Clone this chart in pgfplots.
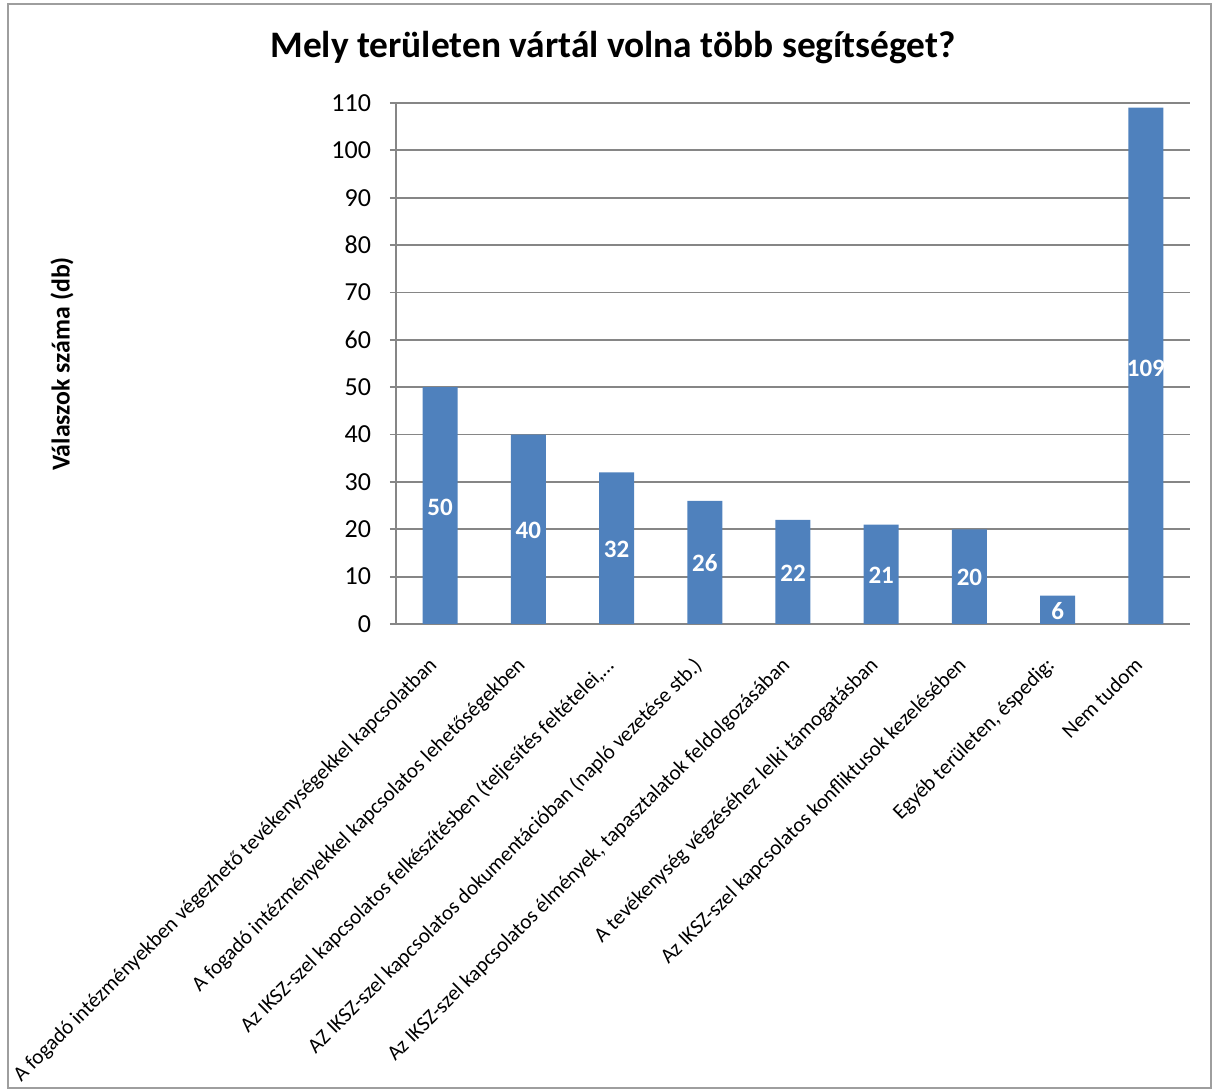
\documentclass[border=0pt]{standalone}
\usepackage{pgfplots}
\pgfplotsset{compat=1.18}
\usepackage{fontspec}
\setmainfont{Carlito}
\definecolor{barblue}{HTML}{4F81BD}
\definecolor{gridgray}{HTML}{868686}
\begin{document}
\begin{tikzpicture}
\useasboundingbox (0pt,0pt) rectangle (607.5pt,545pt);
\draw[gridgray!80, line width=1pt] (4pt,1pt) rectangle (605.5pt,543pt);
\node[font=\fontsize{18.7}{22}\selectfont\bfseries] at (306.5pt,521pt) {Mely területen vártál volna több segítséget?};
\node[font=\fontsize{12.9}{15}\selectfont\bfseries, rotate=90] at (31pt,363pt) {Válaszok száma (db)};
\begin{axis}[
  at={(198pt,233pt)}, anchor=south west,
  scale only axis, width=397pt, height=260.5pt,
  xmin=-0.5, xmax=8.5, ymin=0, ymax=110,
  ytick={0,10,...,110},
  xtick={0,...,8},
  xticklabels={
    A fogadó intézményekben végezhető tevékenységekkel kapcsolatban,
    A fogadó intézményekkel kapcsolatos lehetőségekben,
    {Az IKSZ-szel kapcsolatos felkészítésben (teljesítés feltételei,\ldots},
    AZ IKSZ-szel kapcsolatos dokumentációban (napló vezetése stb.),
    {Az IKSZ-szel kapcsolatos élmények, tapasztalatok feldolgozásában},
    A tevékenység végzéséhez lelki támogatásban,
    Az IKSZ-szel kapcsolatos konfliktusok kezelésében,
    {Egyéb területen, éspedig:},
    Nem tudom},
  axis x line=bottom, axis y line=left,
  x axis line style={-}, y axis line style={-},
  axis line style={gridgray, line width=0.9pt},
  ymajorgrids, grid style={gridgray, line width=0.9pt},
  xtick style={draw=none},
  ytick style={gridgray, line width=0.9pt},
  tick align=outside, major tick length=3pt,
  /pgf/number format/assume math mode=true,
  yticklabel style={font=\fontsize{13}{15}\selectfont, xshift=-6pt},
  xticklabel style={font=\fontsize{10.6}{12}\selectfont, rotate=45, anchor=north east, inner sep=0pt, xshift=-13.5pt, yshift=-4.5pt},
  clip=false,
]
\addplot[ybar, bar width=17.5pt, bar shift=0pt, fill=barblue, draw=none]
  coordinates {(0,50) (1,40) (2,32) (3,26) (4,22) (5,21) (6,20) (7,6) (8,109)};
\addplot[draw=none, mark=none, nodes near coords, point meta=explicit symbolic,
  every node near coord/.style={anchor=center, text=white, font=\fontsize{12.5}{14}\selectfont\bfseries}]
  coordinates {(0,24.7)[50] (1,19.7)[40] (2,15.8)[32] (3,12.8)[26] (4,10.8)[22] (5,10.3)[21] (6,9.8)[20] (7,2.8)[6] (8,54)[109]};
\end{axis}
\end{tikzpicture}
\end{document}
